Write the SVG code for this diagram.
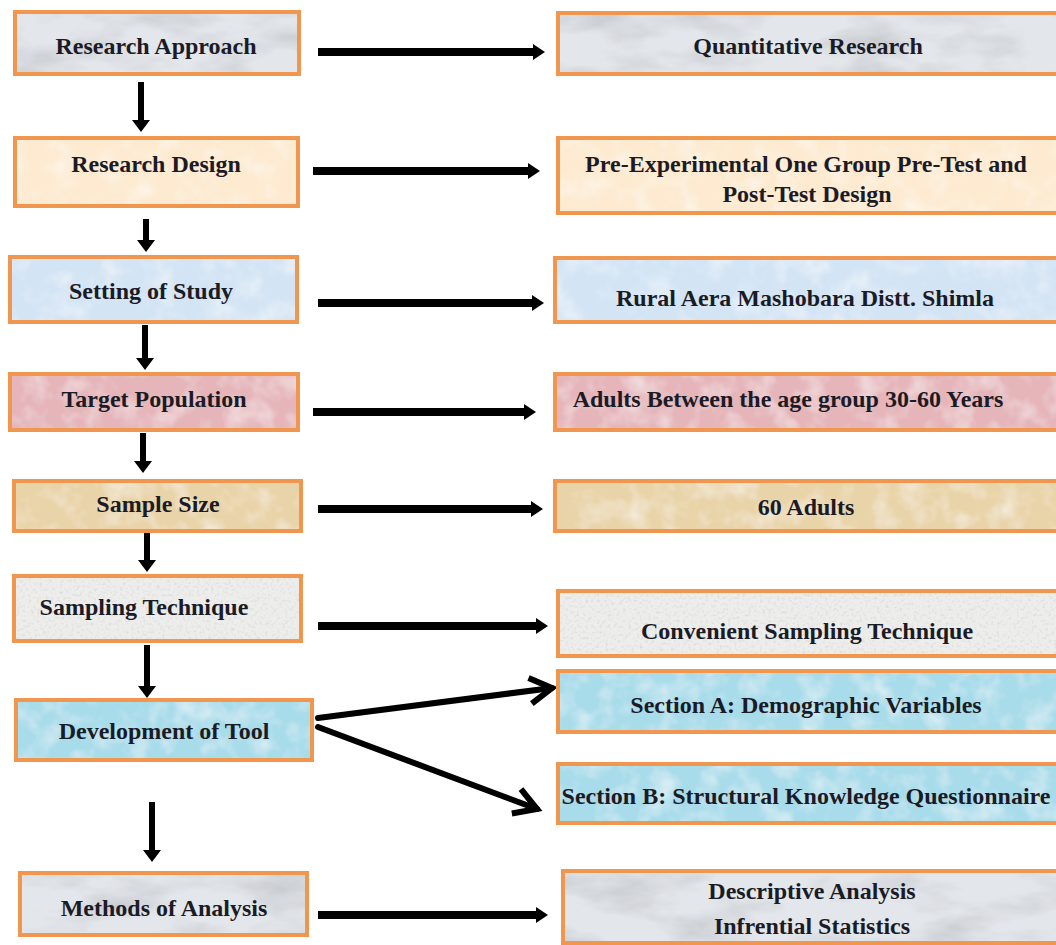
<svg xmlns="http://www.w3.org/2000/svg" width="1056" height="945" viewBox="0 0 1056 945">
<style>
.box{fill:none;stroke:#F0964E;stroke-width:4}
.t{font-family:"Liberation Serif","Times New Roman",serif;font-weight:bold;font-size:24px;fill:#1b1b26;text-anchor:middle}
.arr{stroke:#000;stroke-width:8;fill:none;marker-end:url(#head)}
.varr{stroke:#000;stroke-width:6;fill:none;marker-end:url(#vhead)}
.diag{stroke:#000;stroke-width:6;fill:none;stroke-linecap:round;marker-end:url(#chev)}
.marble{fill:#E3E6EA;filter:url(#fMarble)}
.parch{fill:#FDEAD0;filter:url(#fSoft)}
.blue{fill:#D3E4F4;filter:url(#fSoft)}
.pink{fill:#E5B5BA;filter:url(#fSoft)}
.tan{fill:#E9D4A9;filter:url(#fSoft)}
.granite{fill:#EDEDEC;filter:url(#fGranite)}
.aqua{fill:#A9DCEA;filter:url(#fSoft)}
</style>
<defs>
<filter id="fMarble" x="0" y="0" width="1" height="1">
<feTurbulence type="fractalNoise" baseFrequency="0.012 0.03" numOctaves="4" seed="7" result="n"/>
<feColorMatrix in="n" type="matrix" values="0 0 0 0 0.55  0 0 0 0 0.57  0 0 0 0 0.6  2.0 0 0 0 -0.9" result="c"/>
<feComposite in="c" in2="SourceGraphic" operator="in" result="ci"/>
<feMerge><feMergeNode in="SourceGraphic"/><feMergeNode in="ci"/></feMerge>
</filter>
<filter id="fSoft" x="0" y="0" width="1" height="1">
<feTurbulence type="fractalNoise" baseFrequency="0.04" numOctaves="3" seed="3" result="n"/>
<feColorMatrix in="n" type="matrix" values="0 0 0 0 1  0 0 0 0 1  0 0 0 0 1  1.0 0 0 0 -0.45" result="c"/>
<feComposite in="c" in2="SourceGraphic" operator="in" result="ci"/>
<feMerge><feMergeNode in="SourceGraphic"/><feMergeNode in="ci"/></feMerge>
</filter>
<filter id="fGranite" x="0" y="0" width="1" height="1">
<feTurbulence type="fractalNoise" baseFrequency="0.35" numOctaves="2" seed="5" result="n"/>
<feColorMatrix in="n" type="matrix" values="0 0 0 0 0.62  0 0 0 0 0.62  0 0 0 0 0.62  1.6 0 0 0 -0.8" result="c"/>
<feComposite in="c" in2="SourceGraphic" operator="in" result="ci"/>
<feMerge><feMergeNode in="SourceGraphic"/><feMergeNode in="ci"/></feMerge>
</filter>
<marker id="head" markerUnits="userSpaceOnUse" markerWidth="14" markerHeight="18" refX="2" refY="8" orient="auto" overflow="visible">
<path d="M0,0 L12,8 L0,16 z" fill="#000"/>
</marker>
<marker id="vhead" markerUnits="userSpaceOnUse" markerWidth="14" markerHeight="20" refX="2" refY="9" orient="auto" overflow="visible">
<path d="M0,0 L12,9 L0,18 z" fill="#000"/>
</marker>
<marker id="chev" markerUnits="userSpaceOnUse" markerWidth="30" markerHeight="30" refX="22" refY="13" orient="auto" overflow="visible">
<path d="M0,0 L22,13 L0,26" fill="none" stroke="#000" stroke-width="6" stroke-linejoin="miter"/>
</marker>
</defs>
<rect width="1056" height="945" fill="#fff"/>

<g id="connectors">
<line class="arr" x1="318" y1="52" x2="535" y2="52"/>
<line class="arr" x1="313" y1="171" x2="530" y2="171"/>
<line class="arr" x1="318" y1="303" x2="534" y2="303"/>
<line class="arr" x1="313" y1="412" x2="526" y2="412"/>
<line class="arr" x1="318" y1="509" x2="533" y2="509"/>
<line class="arr" x1="318" y1="626" x2="538" y2="626"/>
<line class="arr" x1="318" y1="915" x2="538" y2="915"/>
<line class="varr" x1="141" y1="82" x2="141" y2="122"/>
<line class="varr" x1="146" y1="219" x2="146" y2="242"/>
<line class="varr" x1="145" y1="325" x2="145" y2="360"/>
<line class="varr" x1="143" y1="433" x2="143" y2="463"/>
<line class="varr" x1="147" y1="533" x2="147" y2="562"/>
<line class="varr" x1="147" y1="645" x2="147" y2="688"/>
<line class="varr" x1="152" y1="802" x2="152" y2="852"/>
<line class="diag" x1="318" y1="718" x2="552" y2="688"/>
<line class="diag" x1="318" y1="727" x2="537" y2="809"/>
</g>

<g id="n-approach"><rect class="marble" x="15" y="12" width="284" height="62"/><rect class="box" x="15" y="12" width="284" height="62"/><text class="t" x="156" y="54">Research Approach</text></g>
<g id="n-design"><rect class="parch" x="15" y="138" width="283" height="68"/><rect class="box" x="15" y="138" width="283" height="68"/><text class="t" x="156" y="172">Research Design</text></g>
<g id="n-setting"><rect class="blue" x="10" y="257" width="287" height="65"/><rect class="box" x="10" y="257" width="287" height="65"/><text class="t" x="151" y="299">Setting of Study</text></g>
<g id="n-target"><rect class="pink" x="10" y="374" width="288" height="56"/><rect class="box" x="10" y="374" width="288" height="56"/><text class="t" x="154" y="407">Target Population</text></g>
<g id="n-size"><rect class="tan" x="14" y="481" width="287" height="50"/><rect class="box" x="14" y="481" width="287" height="50"/><text class="t" x="158" y="512">Sample Size</text></g>
<g id="n-technique"><rect class="granite" x="14" y="576" width="287" height="65"/><rect class="box" x="14" y="576" width="287" height="65"/><text class="t" x="144" y="615">Sampling Technique</text></g>
<g id="n-tool"><rect class="aqua" x="16" y="700" width="296" height="60"/><rect class="box" x="16" y="700" width="296" height="60"/><text class="t" x="164" y="739">Development of Tool</text></g>
<g id="n-methods"><rect class="marble" x="20" y="873" width="287" height="62"/><rect class="box" x="20" y="873" width="287" height="62"/><text class="t" x="164" y="916">Methods of Analysis</text></g>

<g id="n-quant"><rect class="marble" x="558" y="13" width="500" height="61"/><rect class="box" x="558" y="13" width="500" height="61"/><text class="t" x="808" y="54">Quantitative Research</text></g>
<g id="n-preexp"><rect class="parch" x="558" y="138" width="500" height="75"/><rect class="box" x="558" y="138" width="500" height="75"/><text class="t" x="806" y="172">Pre-Experimental One Group Pre-Test and</text><text class="t" x="807" y="202">Post-Test Design</text></g>
<g id="n-rural"><rect class="blue" x="555" y="258" width="503" height="64"/><rect class="box" x="555" y="258" width="503" height="64"/><text class="t" x="805" y="306">Rural Aera Mashobara Distt. Shimla</text></g>
<g id="n-adults"><rect class="pink" x="555" y="374" width="503" height="56"/><rect class="box" x="555" y="374" width="503" height="56"/><text class="t" x="788" y="407">Adults Between the age group 30-60 Years</text></g>
<g id="n-sixty"><rect class="tan" x="555" y="481" width="503" height="50"/><rect class="box" x="555" y="481" width="503" height="50"/><text class="t" x="806" y="515">60 Adults</text></g>
<g id="n-convenient"><rect class="granite" x="558" y="591" width="500" height="65"/><rect class="box" x="558" y="591" width="500" height="65"/><text class="t" x="807" y="639">Convenient Sampling Technique</text></g>
<g id="n-secA"><rect class="aqua" x="558" y="671" width="500" height="61"/><rect class="box" x="558" y="671" width="500" height="61"/><text class="t" x="806" y="713">Section A: Demographic Variables</text></g>
<g id="n-secB"><rect class="aqua" x="558" y="764" width="500" height="59"/><rect class="box" x="558" y="764" width="500" height="59"/><text class="t" x="806" y="804">Section B: Structural Knowledge Questionnaire</text></g>
<g id="n-analysis"><rect class="marble" x="563" y="871" width="495" height="72"/><rect class="box" x="563" y="871" width="495" height="72"/><text class="t" x="812" y="899">Descriptive Analysis</text><text class="t" x="812" y="934">Infrential Statistics</text></g>
</svg>
